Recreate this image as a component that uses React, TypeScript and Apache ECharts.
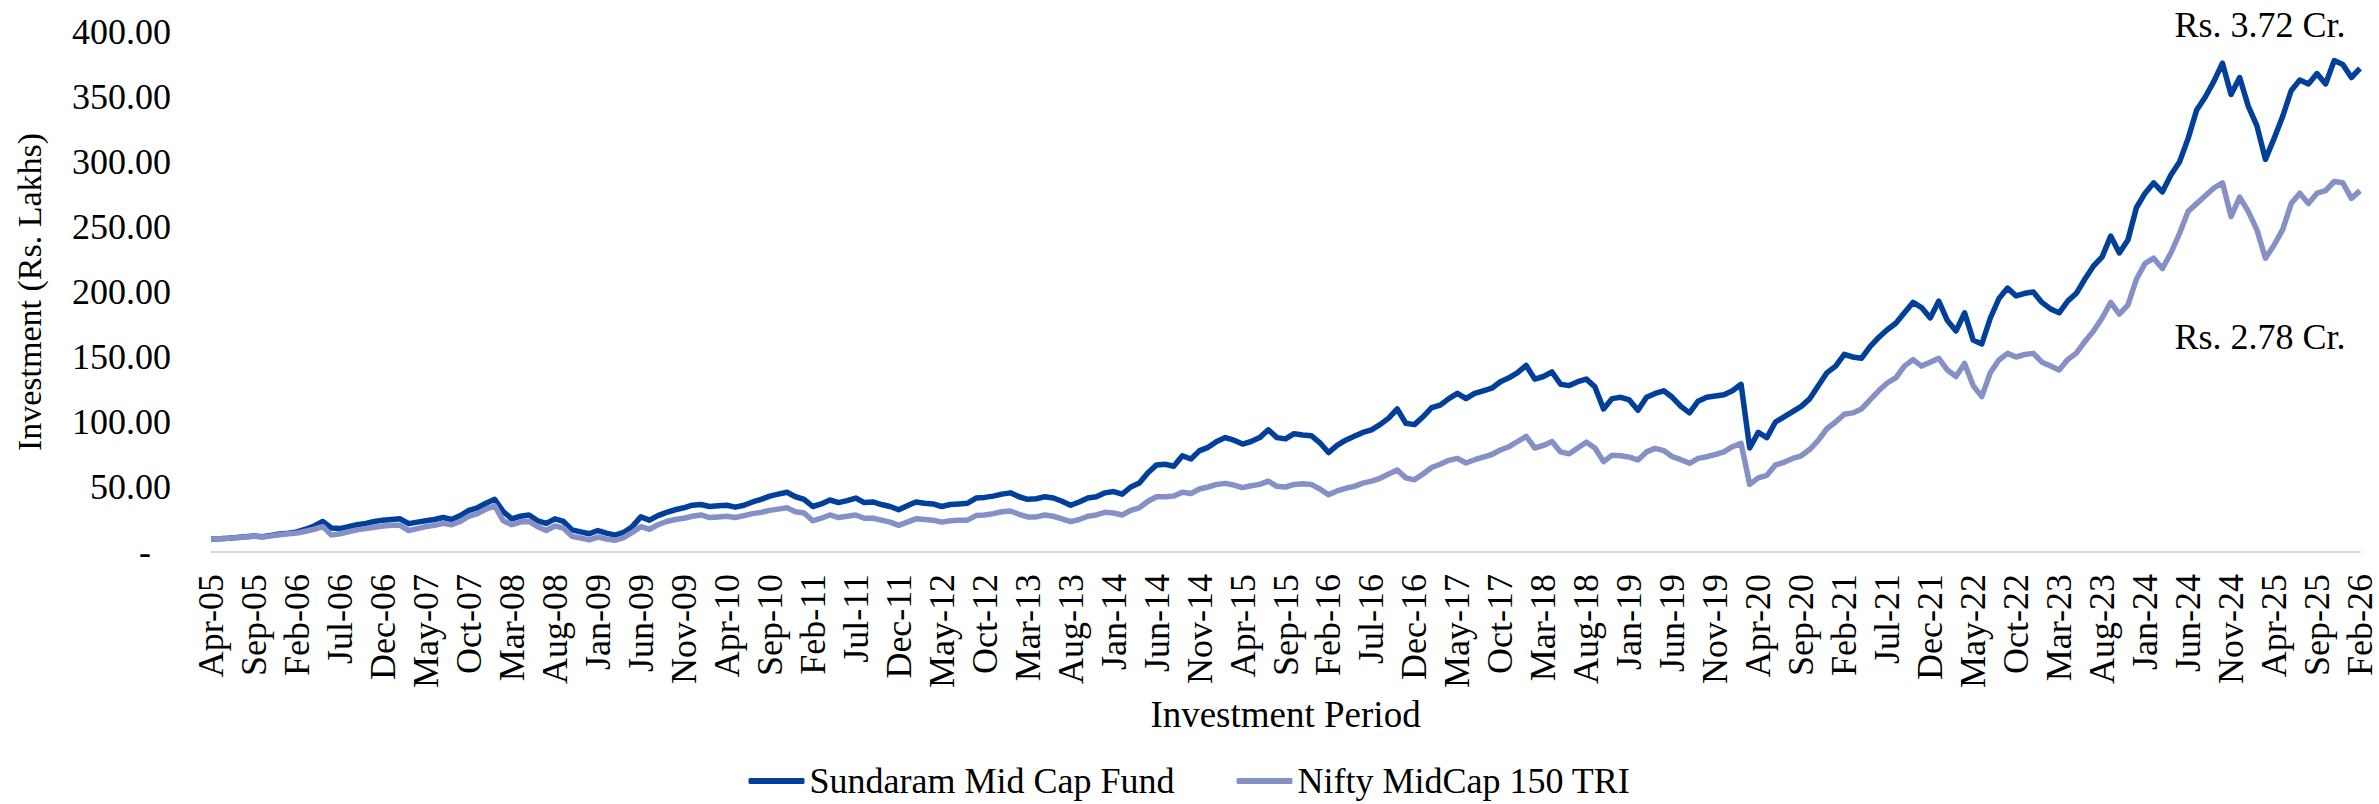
import React, { useEffect, useRef } from "react";
import * as echarts from "echarts";

const MONTH_NAMES = ["Jan", "Feb", "Mar", "Apr", "May", "Jun", "Jul", "Aug", "Sep", "Oct", "Nov", "Dec"];
const START_YEAR = 2005;
const START_MONTH = 3; // April

// Value of Rs. 10 lakh invested (Rs. Lakhs), monthly readings Apr-05 .. Feb-26
const sundaram = [
  10, 10.2, 10.6, 11.2, 11.8, 12.3, 11.8, 12.8, 13.8,
  14.5, 15.5, 17.5, 20, 23.5, 18.5, 18, 19.5, 21, 22, 23.5, 24.5,
  25, 25.5, 21.8, 23, 24, 25, 26.5, 25, 28, 32, 34, 37.5,
  40.5, 31, 25.5, 27.5, 28.5, 24, 22, 25.5, 23.5, 17, 15.5, 14,
  16.5, 14.5, 13, 15, 19.5, 27, 24.5, 28, 30.5, 32.5, 34, 36,
  36.5, 35, 35.5, 36, 34.5, 36, 38.5, 40.5, 43, 44.5, 46, 42.5,
  40.5, 35, 37, 40, 38, 39.5, 41.5, 38, 38.5, 36.5, 35, 32.5,
  35.5, 38.5, 37.5, 37, 35, 36.5, 37, 37.5, 41.5, 42, 43, 44.5,
  45.5, 42.5, 40.5, 41, 42.5, 41.5, 39, 36, 38.5, 41.5, 42.5, 45.5,
  46.5, 44.5, 50, 53, 61, 67, 67.5, 66, 74, 71.5, 78, 80.5,
  85, 88, 86, 83, 85, 88, 94, 88, 87, 91, 90, 89.5,
  84, 76.5, 82, 86, 89, 92, 94, 98, 103, 110, 99, 98,
  104, 111, 113, 118, 122, 118, 122, 124, 126, 131, 134, 138,
  143.5, 133, 135, 138.5, 129, 128, 131, 133, 127, 110, 118, 119,
  117, 109, 119, 122, 124, 119, 112, 107, 116, 119, 120, 121,
  124, 129, 80, 92, 88, 100, 104, 108, 112, 118, 128, 138,
  143, 152, 150, 149, 158, 165, 171, 176, 184, 192, 188, 180,
  193, 178, 170, 184, 163, 160, 180, 195, 203, 197, 199, 200,
  192, 187, 184, 193, 199, 210, 220, 227, 243, 230, 240, 265,
  276, 284, 277, 290, 300, 318, 340, 350, 362, 376, 352, 365,
  343, 328, 302, 318, 335, 355, 363, 360, 368, 360, 378, 375,
  365, 372,
];

const nifty = [
  10, 10.1, 10.5, 11, 11.6, 12.1, 11.5, 12.4, 13.3,
  14, 14.6, 16, 17.5, 19.5, 13, 14, 15.5, 17, 18, 19, 20,
  20.5, 20.5, 16.5, 18, 19.5, 20.5, 22, 21, 23.5, 27.5, 29.5, 33,
  35.5, 24, 21, 23, 23.5, 19.5, 16.5, 20, 18.5, 12, 10.8, 9.3,
  11.5, 10, 9, 11, 15, 19.5, 17.5, 21, 23.5, 25, 26, 27.5,
  28.5, 26.5, 27, 27.5, 26.5, 28, 29.5, 30.5, 32, 33, 34, 31,
  30, 24, 26, 28.5, 26.5, 27.5, 28.5, 26, 26, 24.5, 23, 20.5,
  23, 25.5, 25, 24.5, 23, 24, 24.5, 24.5, 28, 28.5, 29.5, 31,
  31.5, 29, 27, 27, 28.5, 27.5, 25.5, 23.3, 25, 27.5, 28.5, 30.5,
  30, 28.5, 32, 34, 39, 42.5, 42.5, 43, 46, 45, 48.5, 50,
  52, 52.8, 51.5, 49.5, 51, 52, 54.5, 50.5, 50, 52, 52.5, 52,
  48.5, 44, 47, 49, 50.5, 53, 54.5, 56.7, 60, 63, 57, 55.5,
  60, 65, 67.5, 70.5, 72, 68.5, 71, 73, 75, 78.5, 81, 85,
  89, 80, 82, 85, 77, 75.5, 80, 84.5, 80, 69.5, 74.5, 74,
  73, 70.8, 77, 79.7, 78, 73.3, 71, 68.2, 72, 73.3, 75, 77,
  81, 83.6, 52, 57, 59, 67, 69, 72, 74, 79, 86, 95,
  100, 106, 107, 110, 117, 124, 130, 134, 143, 148, 143, 146,
  149, 140, 135, 145, 128, 119.5, 138, 147.7, 152.8, 150, 152, 152.8,
  146, 143, 140, 148, 153, 162, 170, 180, 192, 183, 190, 210,
  222, 226, 218, 230, 245, 262, 268, 274, 280, 284, 258, 273,
  262, 248, 226, 236, 248, 268, 276, 268, 276, 278, 285, 284,
  272, 278,
];

const SERIES_NAMES = ["Sundaram Mid Cap Fund", "Nifty MidCap 150 TRI"];
const END_LABELS = ["Rs. 3.72 Cr.", "Rs. 2.78 Cr."];

const categories = sundaram.map((_, i) => {
  const t = START_MONTH + i;
  const m = t % 12;
  const y = START_YEAR + Math.floor(t / 12);
  return `${MONTH_NAMES[m]}-${String(y % 100).padStart(2, "0")}`;
});

const FONT = "'Liberation Serif', 'Times New Roman', serif";

export default function App() {
  const ref = useRef<HTMLDivElement>(null);

  useEffect(() => {
    if (!ref.current) return;
    const chart = echarts.init(ref.current, undefined, { renderer: "svg" });
    chart.setOption({
      animation: false,
      backgroundColor: "#ffffff",
      textStyle: { fontFamily: FONT, color: "#000" },
      grid: { left: 211, right: 19, top: 32, bottom: 252, containLabel: false },
      legend: {
        data: SERIES_NAMES,
        left: "center",
        top: 758,
        icon: "roundRect",
        itemWidth: 56,
        itemHeight: 6,
        itemGap: 62,
        textStyle: { fontFamily: FONT, fontSize: 36, color: "#000" },
      },
      xAxis: {
        type: "category",
        data: categories,
        boundaryGap: false,
        name: "Investment Period",
        nameLocation: "middle",
        nameGap: 136,
        nameTextStyle: { fontFamily: FONT, fontSize: 37, color: "#000" },
        axisLine: { show: true, lineStyle: { color: "#D9D9D9", width: 2 } },
        axisTick: { show: false },
        axisLabel: {
          interval: 4,
          rotate: 90,
          margin: 22,
          fontFamily: FONT,
          fontSize: 36,
          color: "#000",
        },
        splitLine: { show: false },
      },
      yAxis: {
        type: "value",
        min: 0,
        max: 400,
        interval: 50,
        name: "Investment (Rs. Lakhs)",
        nameLocation: "middle",
        nameRotate: 90,
        nameGap: 165,
        nameTextStyle: { fontFamily: FONT, fontSize: 34, color: "#000" },
        axisLine: { show: false },
        axisTick: { show: false },
        splitLine: { show: false },
        axisLabel: {
          margin: 40,
          fontFamily: FONT,
          fontSize: 36,
          color: "#000",
          formatter: (v: number) => (v === 0 ? "{d|-}" : v.toFixed(2)),
          rich: {
            d: { fontFamily: FONT, fontSize: 36, color: "#000", padding: [0, 20, 0, 0] },
          },
        },
      },
      graphic: [
        {
          type: "text",
          x: 2260,
          y: 25,
          style: { text: END_LABELS[0], fontFamily: FONT, fontSize: 36, fill: "#000", align: "center", verticalAlign: "middle" },
        },
        {
          type: "text",
          x: 2260,
          y: 337,
          style: { text: END_LABELS[1], fontFamily: FONT, fontSize: 36, fill: "#000", align: "center", verticalAlign: "middle" },
        },
      ],
      series: [
        {
          name: SERIES_NAMES[0],
          type: "line",
          data: sundaram,
          symbol: "none",
          lineStyle: { color: "#00409A", width: 5.5, join: "round" },
          itemStyle: { color: "#00409A" },
        },
        {
          name: SERIES_NAMES[1],
          type: "line",
          data: nifty,
          symbol: "none",
          lineStyle: { color: "#8591C6", width: 5.5, join: "round" },
          itemStyle: { color: "#8591C6" },
        },
      ],
    });
    return () => chart.dispose();
  }, []);

  return (
    <div
      ref={ref}
      style={{ position: "fixed", left: 0, top: 0, width: 2379, height: 804, background: "#fff" }}
    />
  );
}
